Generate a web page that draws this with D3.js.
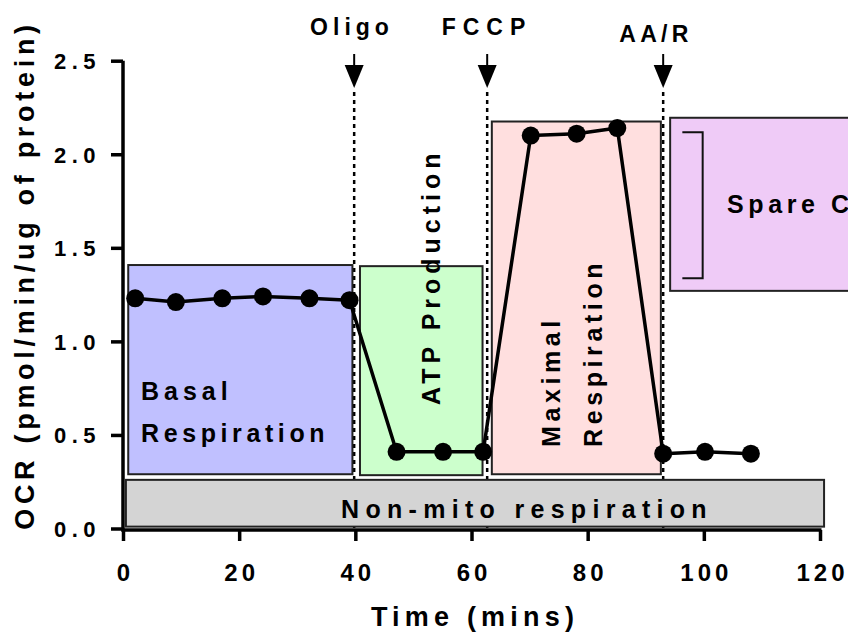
<!DOCTYPE html>
<html>
<head>
<meta charset="utf-8">
<script src="https://cdn.jsdelivr.net/npm/d3@7"></script>
<style>
  html, body { margin: 0; padding: 0; background: #fff; }
  svg { display: block; }
  text { font-family: "Liberation Sans", Arial, sans-serif; font-weight: bold; fill: #000; }
</style>
</head>
<body>
<svg id="chart" width="848" height="635"></svg>
<script>
// Mito stress test: oxygen consumption rate over time
const times = [2.1, 9.1, 17.1, 24.1, 32.1, 39.0, 47.1, 55.1, 62.0, 70.2, 78.1, 85.1, 93.0, 100.2, 108.1];
const ocr   = [1.23, 1.21, 1.23, 1.24, 1.23, 1.22, 0.41, 0.41, 0.41, 2.10, 2.11, 2.14, 0.40, 0.41, 0.40];

const xTicks = [0, 20, 40, 60, 80, 100, 120];
const yTicks = [0.0, 0.5, 1.0, 1.5, 2.0, 2.5];

// compound injections
const injectionNames = ["Oligo", "FCCP", "AA/R"];
const injectionTimes = [39.8, 62.7, 93.0];

// shaded regions in data units
const regionNames  = ["Basal", "ATP", "Maximal", "Spare", "NonMito"];
const regionT0     = [0.9, 40.8, 63.5, 94.2, 0.5];
const regionT1     = [39.5, 61.9, 92.6, 140, 120.7];
const regionLow    = [0.29, 0.285, 0.29, 1.27, 0.01];
const regionHigh   = [1.408, 1.402, 2.175, 2.195, 0.26];
const regionFill   = ["#c0c0ff", "#ccffcc", "#ffdfdf", "#efcbf7", "#d4d4d4"];

// spare capacity bracket
const bracketT = [96.3, 99.8];
const bracketY = [1.338, 2.117];

const svg = d3.select("#chart");
const x = d3.scaleLinear().domain([0, 120]).range([123, 820]);
const y = d3.scaleLinear().domain([0, 2.5]).range([528.5, 60.7]);

// injection markers: dotted guide, stem, arrow head, name
const inj = svg.append("g");
const nameX = [352, 487, 656];
const nameY = [35, 35, 42];
const nameSpacing = [5, 7, 4.3];
injectionTimes.forEach((t, i) => {
  const px = x(t);
  inj.append("line").attr("x1", px).attr("x2", px).attr("y1", 92).attr("y2", y(0))
    .attr("stroke", "#000").attr("stroke-width", 2.5).attr("stroke-dasharray", "4,4");
  inj.append("line").attr("x1", px).attr("x2", px).attr("y1", 54).attr("y2", 66)
    .attr("stroke", "#000").attr("stroke-width", 2);
  inj.append("path").attr("d", `M${px - 9.5},65 L${px + 9.5},65 L${px},88 Z`).attr("fill", "#000");
  inj.append("text").attr("x", nameX[i]).attr("y", nameY[i])
    .attr("text-anchor", "middle").attr("font-size", 23)
    .style("letter-spacing", nameSpacing[i] + "px")
    .text(injectionNames[i]);
});

// regions
const regions = regionNames.map((n, i) => ({
  name: n, t0: regionT0[i], t1: regionT1[i], lo: regionLow[i], hi: regionHigh[i], fill: regionFill[i]
}));
svg.append("g").selectAll("rect").data(regions).join("rect")
  .attr("x", d => x(d.t0))
  .attr("y", d => y(d.hi))
  .attr("width", d => x(d.t1) - x(d.t0))
  .attr("height", d => y(d.lo) - y(d.hi))
  .attr("fill", d => d.fill)
  .attr("stroke", "#222")
  .attr("stroke-width", 2);

// bracket
svg.append("path")
  .attr("d", `M${x(bracketT[0])},${y(bracketY[1])}H${x(bracketT[1])}V${y(bracketY[0])}H${x(bracketT[0])}`)
  .attr("fill", "none").attr("stroke", "#111").attr("stroke-width", 2);

// region labels
function label(txt, px, py, size, spacing, rotate, anchor) {
  const t = svg.append("text")
    .attr("font-size", size)
    .style("letter-spacing", spacing + "px")
    .attr("text-anchor", anchor || "start")
    .text(txt);
  if (rotate) t.attr("transform", `translate(${px},${py}) rotate(-90)`);
  else t.attr("x", px).attr("y", py);
  return t;
}
label("Basal", 141, 400, 25, 5);
label("Respiration", 141, 442, 25, 4.6);
label("ATP Production", 440, 405, 25, 5, true);
label("Maximal", 560, 447, 25, 4.6, true);
label("Respiration", 601.5, 447, 25, 4.6, true);
label("Spare Capacity", 727, 213, 25, 4.6);
label("Non-mito respiration", 527, 518, 25, 6.3, false, "middle");

// OCR trace
svg.append("path")
  .datum(times.map((t, i) => [t, ocr[i]]))
  .attr("d", d3.line().x(d => x(d[0])).y(d => y(d[1])))
  .attr("fill", "none").attr("stroke", "#000").attr("stroke-width", 3.5).attr("stroke-linejoin", "round");
svg.append("g").selectAll("circle").data(times).join("circle")
  .attr("cx", d => x(d)).attr("cy", (d, i) => y(ocr[i])).attr("r", 9).attr("fill", "#000");

// axes
const yAxis = svg.append("g").attr("transform", `translate(${x(0)},0)`)
  .call(d3.axisLeft(y).tickValues(yTicks).tickFormat(d3.format(".1f")).tickSize(12).tickPadding(10));
const xAxis = svg.append("g").attr("transform", `translate(0,${y(0) + 1.5})`)
  .call(d3.axisBottom(x).tickValues(xTicks).tickSize(11).tickPadding(23));
[yAxis, xAxis].forEach(a => {
  a.select(".domain").attr("stroke", "#000").attr("stroke-width", 3.5);
  a.selectAll(".tick line").attr("stroke", "#000").attr("stroke-width", 3.5);
  a.selectAll(".tick text").attr("fill", "#000")
    .attr("font-family", "Liberation Sans, Arial, sans-serif").attr("font-weight", "bold");
});
yAxis.select(".domain").attr("d", `M0,${y(2.5)}V${y(0) + 3}`);
yAxis.selectAll(".tick text").attr("font-size", 22).style("letter-spacing", "5.5px").attr("dy", "0.36em");
xAxis.select(".domain").attr("d", `M${x(0) - 1.5},0H${x(120) + 1.5}`);
xAxis.selectAll(".tick text").attr("font-size", 24).style("letter-spacing", "4px").attr("dx", 2);

// axis titles
svg.append("text").attr("x", 475).attr("y", 626).attr("text-anchor", "middle")
  .attr("font-size", 27).style("letter-spacing", "5.2px").text("Time (mins)");
svg.append("text").attr("transform", `translate(34,275) rotate(-90)`)
  .attr("text-anchor", "middle").attr("font-size", 27).style("letter-spacing", "4.7px")
  .text("OCR (pmol/min/ug of protein)");
</script>
</body>
</html>
